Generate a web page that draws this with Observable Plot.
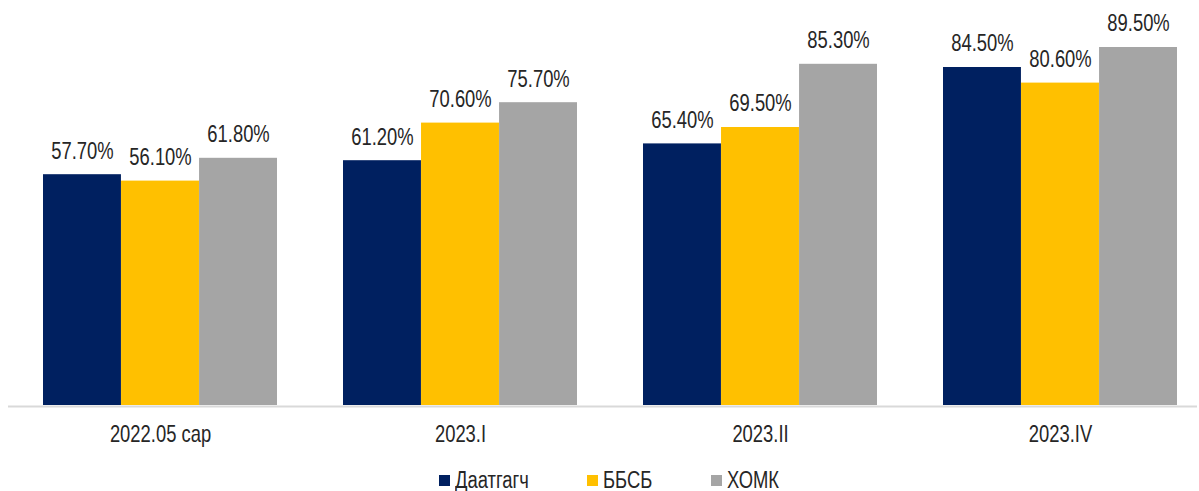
<!DOCTYPE html>
<html>
<head>
<meta charset="utf-8">
<script src="https://cdn.jsdelivr.net/npm/d3@7"></script>
<script src="https://cdn.jsdelivr.net/npm/@observablehq/plot@0.6"></script>
<style>
  html, body { margin: 0; padding: 0; background: #fff; }
  body { width: 1199px; height: 491px; overflow: hidden; font-family: "Liberation Sans", Arial, sans-serif; }
  #legend { display: flex; justify-content: center; align-items: center; height: 36px; margin-top: 7px; padding-left: 19px; font-size: 23px; color: #262626; }
  .item { display: flex; align-items: center; margin: 0 29px; }
  .sw { width: 11px; height: 11px; margin-right: 5px; }
  .lt { display: inline-block; transform: scaleX(0.8); transform-origin: 0 50%; line-height: 1; }
</style>
</head>
<body>
<div id="chart"></div>
<div id="legend"></div>
<script>
const groups = ["2022.05 сар", "2023.I", "2023.II", "2023.IV"];
const series = ["Даатгагч", "ББСБ", "ХОМК"];
const colors = ["#002060", "#FFC000", "#A5A5A5"];
const valuesDaatgagch = [57.7, 61.2, 65.4, 84.5];
const valuesBBSB = [56.1, 70.6, 69.5, 80.6];
const valuesKhomk = [61.8, 75.7, 85.3, 89.5];

const seriesValues = [valuesDaatgagch, valuesBBSB, valuesKhomk];
const data = [];
groups.forEach((g, gi) => series.forEach((s, si) => data.push({group: g, series: s, si, value: seriesValues[si][gi]})));

const width = 1199, height = 455;
const marginLeft = 8, marginRight = 2, marginTop = 5, marginBottom = 50;
const paddingInner = 0.2213, paddingOuter = 0.0882, align = 0.623;
const narrow = 0.8;
const band = d3.scaleBand().domain(groups).range([marginLeft, width - marginRight])
  .paddingInner(paddingInner).paddingOuter(paddingOuter).align(align);
const bw = band.bandwidth();
const third = bw / 3;
const font = "'Liberation Sans', Arial, sans-serif";

const marks = [
  Plot.ruleY([0], {stroke: "#D9D9D9", strokeWidth: 2, dy: 1}),
  Plot.axisX({tickSize: 0, tickPadding: 20, fontSize: 23, fill: "#262626", label: null})
];
series.forEach((s, si) => {
  const d = data.filter(r => r.si === si);
  marks.push(Plot.barY(d, {x: "group", y: "value", fill: colors[si], insetLeft: si * third, insetRight: (2 - si) * third}));
  marks.push(Plot.text(d, {x: "group", y: "value", text: r => r.value.toFixed(2) + "%", dx: (si - 1) * third, dy: -23.5, lineAnchor: "middle", fontSize: 23, fill: "#262626"}));
});

const chart = Plot.plot({
  width, height, marginLeft, marginRight, marginTop, marginBottom,
  style: {fontFamily: font, background: "#fff", color: "#262626"},
  x: {domain: groups, paddingInner, paddingOuter, align, label: null},
  y: {domain: [0, 100], axis: null},
  marks
});
// condensed look: narrow each text horizontally around its anchor
chart.querySelectorAll("text").forEach(t => {
  const tr = t.getAttribute("transform") || "";
  t.setAttribute("transform", (tr + ` scale(${narrow},1)`).trim());
  const x = t.getAttribute("x");
  if (x != null) t.setAttribute("x", +x / narrow);
});
document.getElementById("chart").appendChild(chart);

const legend = document.getElementById("legend");
series.forEach((s, si) => {
  const it = document.createElement("div");
  it.className = "item";
  const sw = document.createElement("div");
  sw.className = "sw";
  sw.style.background = colors[si];
  const t = document.createElement("span");
  t.className = "lt";
  t.textContent = s;
  it.appendChild(sw); it.appendChild(t);
  legend.appendChild(it);
  t.style.marginRight = (-t.offsetWidth * (1 - narrow)) + "px";
});
</script>
</body>
</html>
